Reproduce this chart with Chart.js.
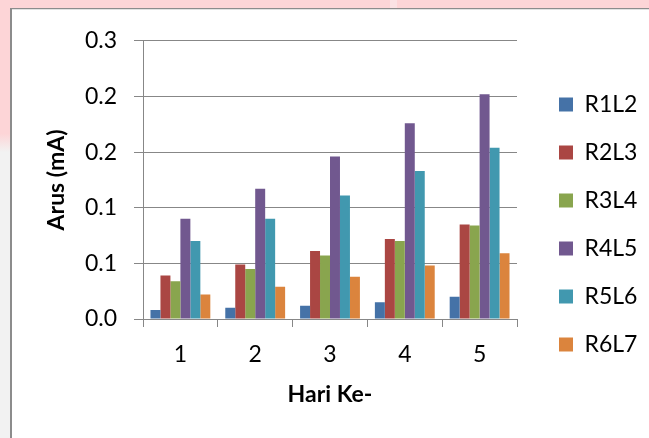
<!DOCTYPE html>
<html>
<head>
<meta charset="utf-8">
<script src="https://cdn.jsdelivr.net/npm/chart.js@4/dist/chart.umd.min.js"></script>
<style>
  html, body { margin: 0; padding: 0; background: #ffffff; }
  #page { position: relative; width: 649px; height: 438px; overflow: hidden; background: #ffffff; }
  .bg { position: absolute; }
  #chartCanvas { position: absolute; left: 12px; top: 10px; background: #ffffff; }
</style>
</head>
<body>
<div id="page">
  <div class="bg" style="left:0;top:0;width:649px;height:8px;background:#FDD5D7;"></div>
  <div class="bg" style="left:390px;top:0;width:7px;height:8px;background:#FBE2E4;"></div>
  <div class="bg" style="left:0;top:0;width:10px;height:152px;background:linear-gradient(to bottom,#FDD5D7 0%,#FDD5D7 88%,#F2F2F2 100%);"></div>
  <div class="bg" style="left:0;top:152px;width:10px;height:286px;background:#F2F2F2;"></div>
  <div class="bg" style="left:10px;top:8px;width:639px;height:1px;background:#8C8C8C;"></div>
  <div class="bg" style="left:10px;top:9px;width:639px;height:1px;background:#E2E2E2;"></div>
  <div class="bg" style="left:10px;top:8px;width:2px;height:430px;background:#8C8C8C;"></div>
  <canvas id="chartCanvas" width="637" height="428"></canvas>
</div>
<script>
// ---- Data ----
const categories = ['1', '2', '3', '4', '5'];
const seriesNames = ['R1L2', 'R2L3', 'R3L4', 'R4L5', 'R5L6', 'R6L7'];
const R1L2 = [0.008, 0.010, 0.012, 0.015, 0.020];
const R2L3 = [0.039, 0.049, 0.061, 0.072, 0.085];
const R3L4 = [0.034, 0.045, 0.057, 0.070, 0.084];
const R4L5 = [0.090, 0.117, 0.146, 0.176, 0.202];
const R5L6 = [0.070, 0.090, 0.111, 0.133, 0.154];
const R6L7 = [0.022, 0.029, 0.038, 0.048, 0.059];
const yTickLabels = ['0.0', '0.1', '0.1', '0.2', '0.2', '0.3'];
const xTitle = 'Hari Ke-';
const yTitle = 'Arus (mA)';

const seriesValues = [R1L2, R2L3, R3L4, R4L5, R5L6, R6L7];
const seriesColors = ['#4572A7', '#AA4643', '#89A54E', '#71588F', '#4198AF', '#DB843D'];

const FONT = 'Lato, "Open Sans", "Liberation Sans", sans-serif';
const GRID = '#878787';

const legendShift = {
  id: 'legendShift',
  afterLayout(chart) {
    const lg = chart.legend;
    if (lg) {
      lg.left += 17; lg.right += 17;
      lg.top += 2; lg.bottom += 2;
    }
  }
};

new Chart(document.getElementById('chartCanvas'), {
  type: 'bar',
  data: {
    labels: categories,
    datasets: seriesNames.map((name, i) => ({
      label: name,
      data: seriesValues[i],
      backgroundColor: seriesColors[i],
      borderWidth: 0,
      categoryPercentage: 0.8,
      barPercentage: 1.0
    }))
  },
  options: {
    responsive: false,
    animation: false,
    devicePixelRatio: 1,
    layout: { padding: { left: 0, top: 27, right: 29, bottom: 30 } },
    plugins: {
      legend: {
        position: 'right',
        maxWidth: 103,
        labels: {
          boxWidth: 14,
          boxHeight: 14,
          padding: 25,
          color: '#000000',
          font: { family: FONT, size: 23 }
        }
      },
      tooltip: { enabled: false }
    },
    scales: {
      x: {
        offset: true,
        afterFit(scale) { scale.height = 89; },
        grid: {
          display: true,
          offset: true,
          drawOnChartArea: false,
          drawTicks: true,
          tickLength: 8,
          color: GRID,
          lineWidth: 1
        },
        border: { display: true, color: GRID, width: 1 },
        ticks: {
          color: '#000000',
          padding: 14,
          font: { family: FONT, size: 23 },
          maxRotation: 0
        },
        title: {
          display: true,
          text: xTitle,
          color: '#000000',
          font: { family: FONT, size: 23, weight: 'bold' },
          padding: { top: 11.6, bottom: 0 }
        }
      },
      y: {
        min: 0,
        max: 0.25,
        afterFit(scale) { scale.width = 131; },
        ticks: {
          stepSize: 0.05,
          color: '#000000',
          padding: 17,
          font: { family: FONT, size: 23 },
          callback: (v, i) => yTickLabels[i]
        },
        grid: {
          color: GRID,
          lineWidth: 1,
          tickLength: 9,
          drawTicks: true
        },
        border: { display: true, color: GRID, width: 1 },
        title: {
          display: true,
          text: yTitle,
          color: '#000000',
          font: { family: FONT, size: 23, weight: 'bold' },
          padding: { top: 31.2, bottom: 0 }
        }
      }
    }
  },
  plugins: [legendShift]
});
</script>
</body>
</html>
